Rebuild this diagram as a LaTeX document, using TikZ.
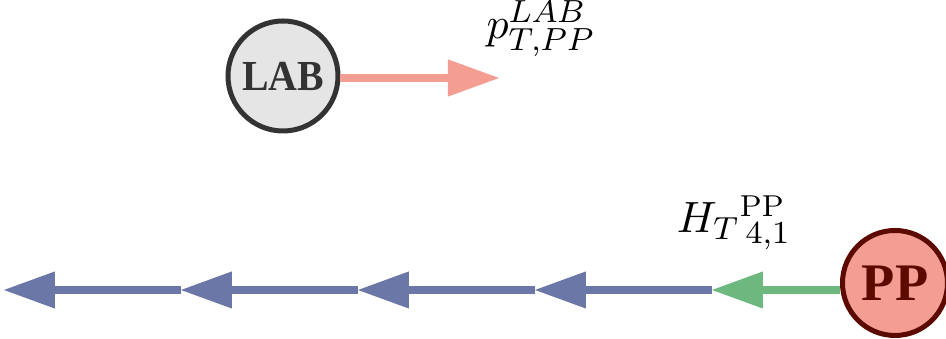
\documentclass[tikz,border=0pt]{standalone}
\usepackage{fontspec}
\newfontfamily\nodefont{Liberation Serif}
\usepackage{graphicx}
\usetikzlibrary{arrows.meta}
\definecolor{labfill}{HTML}{E5E5E5}
\definecolor{labdraw}{HTML}{333333}
\definecolor{ppfill}{HTML}{F49E93}
\definecolor{ppdraw}{HTML}{5C0A00}
\definecolor{salmon}{HTML}{F49E93}
\definecolor{arrblue}{HTML}{6B77A7}
\definecolor{arrgreen}{HTML}{6DB87E}
\tikzset{
  nodecirc/.style={circle, line width=1.25pt, inner sep=0pt},
  conn/.style={line width=1.85pt, -{Triangle[length=12.75pt,width=9.3pt,line width=0pt]}},
  lbl/.style={font=\fontsize{10.8}{12}\selectfont, inner sep=0pt}
}
\begin{document}
\begin{tikzpicture}[x=0.25pt,y=-0.25pt]
\useasboundingbox (0,0) rectangle (946,339);
% nodes
\node[nodecirc, fill=labfill, draw=labdraw, text=labdraw, minimum size=27.5pt,
      font=\nodefont\bfseries\fontsize{10.7}{12}\selectfont] (LAB) at (283,76) {\scalebox{0.93}[1]{LAB}};
\node[nodecirc, fill=ppfill, draw=ppdraw, text=ppdraw, minimum size=26.25pt,
      font=\nodefont\bfseries\fontsize{13.2}{14}\selectfont] (PP) at (895,283) {\scalebox{1.03}[1]{PP}};
% coordinates
\coordinate (ptip) at (499,78);
\coordinate (gtip) at (712,290);
\coordinate (b1) at (535,290);
\coordinate (b2) at (358,290);
\coordinate (b3) at (181,290);
\coordinate (b4) at (4,290);
% connectors
\draw[conn, salmon] (LAB.east |- ptip) -- (ptip);
\draw[conn, arrgreen] (PP.west |- gtip) -- (gtip);
\draw[conn, arrblue] (gtip) -- (b1);
\draw[conn, arrblue] (b1) -- (b2);
\draw[conn, arrblue] (b2) -- (b3);
\draw[conn, arrblue] (b3) -- (b4);
% labels
\node[lbl] (plabel) at (541,29) {$p^{LAB}_{T,PP}$};
\node[lbl] (hlabel) at (734,223) {$H_{T}{}^{\mathrm{PP}}_{\,4,1}$};
\end{tikzpicture}
\end{document}
